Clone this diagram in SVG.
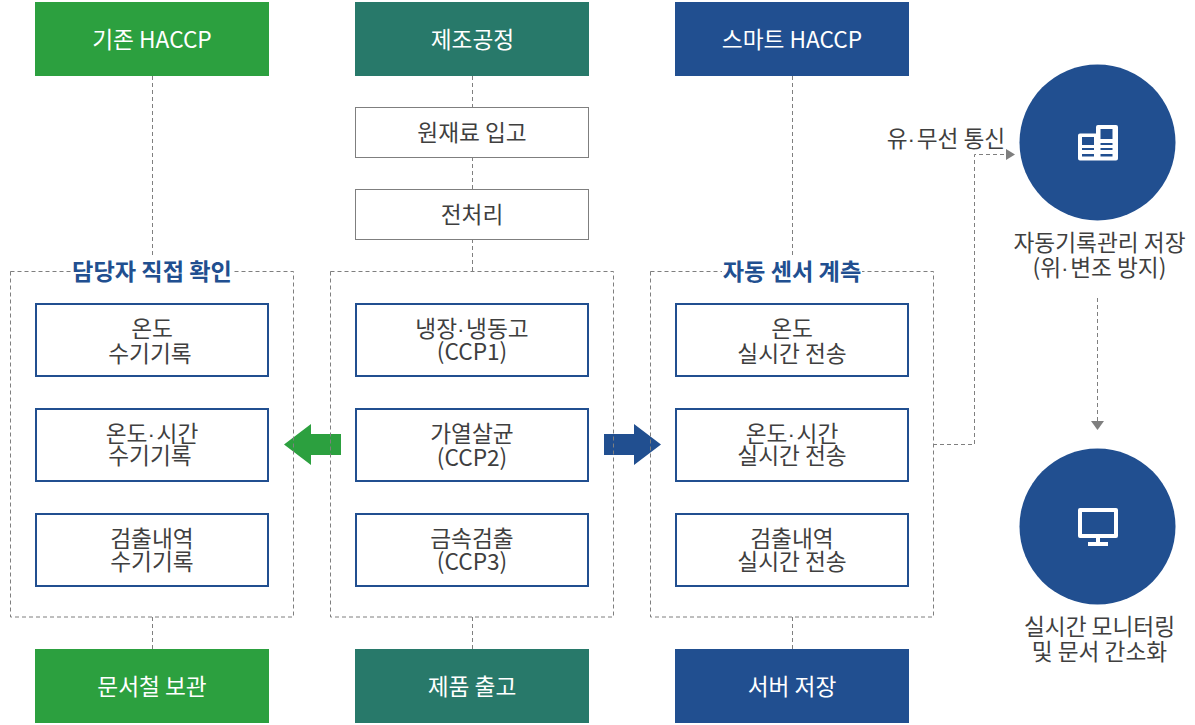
<svg xmlns="http://www.w3.org/2000/svg" width="1195" height="725" viewBox="0 0 1195 725">
<defs><style>
text{font-family:"Noto Sans CJK KR","Noto Sans",sans-serif;font-size:22.700px;fill:#3f3f3f;text-anchor:middle}
tspan{font-family:"Liberation Sans",sans-serif;letter-spacing:1.500px}
.w{fill:#fff}
.t{fill:#214f90;font-weight:700;font-size:23.200px}
.d{fill:none;stroke:#7f7f7f;stroke-width:1;stroke-dasharray:4 3}
.g{fill:#2ca03f}.e{fill:#28796a}.b{fill:#214f90}
.n{fill:#fff;stroke:#7f7f7f;stroke-width:1}
.c{fill:#fff;stroke:#214f90;stroke-width:2}
</style></defs>
<rect width="1195" height="725" fill="#fff"/>
<g id="connectors">
<path class="d" d="M152.500 76V271M152.500 617V649M472.500 76V107M472.500 157V189M472.500 239V271M472.500 617V649M792.500 76V271M792.500 617V649"/>
<path class="d" d="M933 444.500H974.500V154.500H1006"/>
<path d="M1006 149L1015 154.500L1006 160Z" fill="#7f7f7f"/>
<path class="d" d="M1097.500 298V421"/>
<path d="M1091 421H1104L1097.500 430Z" fill="#7f7f7f"/>
<path d="M341 434H311V424L284 444.500L311 465V455H341Z" class="g"/>
<path d="M604 434H634V424L661 444.500L634 465V455H604Z" class="b"/>
</g>
<g id="group-left"><rect class="d" x="10.500" y="271.500" width="283" height="345.500"/><rect x="72" y="258" width="161" height="26" fill="#fff"/><text class="t" x="152" y="280">담당자 직접 확인</text></g>
<g id="group-mid"><rect class="d" x="330.500" y="271.500" width="283" height="345.500"/></g>
<g id="group-right"><rect class="d" x="650.500" y="271.500" width="283" height="345.500"/><rect x="722" y="258" width="140" height="26" fill="#fff"/><text class="t" x="792" y="280">자동 센서 계측</text></g>
<g id="h1"><rect class="g" x="35" y="2" width="234" height="74"/><text class="w" x="152" y="48">기존 HACCP</text></g>
<g id="h2"><rect class="e" x="355" y="2" width="234" height="74"/><text class="w" x="472.500" y="48">제조공정</text></g>
<g id="h3"><rect class="b" x="675" y="2" width="234" height="74"/><text class="w" x="792" y="48">스마트 HACCP</text></g>
<g id="p1"><rect class="n" x="355.500" y="107.500" width="233" height="50"/><text x="472" y="141">원재료 입고</text></g>
<g id="p2"><rect class="n" x="355.500" y="189.500" width="233" height="50"/><text x="472" y="223">전처리</text></g>
<g id="l1"><rect class="c" x="36" y="304" width="232" height="72"/><text x="152" y="337">온도</text><text x="150" y="362">수기기록</text></g>
<g id="l2"><rect class="c" x="36" y="409" width="232" height="72"/><text x="152" y="442">온도<tspan>·</tspan>시간</text><text x="150" y="464">수기기록</text></g>
<g id="l3"><rect class="c" x="36" y="514" width="232" height="72"/><text x="152" y="547">검출내역</text><text x="152" y="570">수기기록</text></g>
<g id="m1"><rect class="c" x="356" y="304" width="232" height="72"/><text x="472" y="337">냉장<tspan>·</tspan>냉동고</text><text x="472" y="360">(CCP1)</text></g>
<g id="m2"><rect class="c" x="356" y="409" width="232" height="72"/><text x="472" y="442">가열살균</text><text x="472" y="466">(CCP2)</text></g>
<g id="m3"><rect class="c" x="356" y="514" width="232" height="72"/><text x="472" y="547">금속검출</text><text x="472" y="570">(CCP3)</text></g>
<g id="r1"><rect class="c" x="676" y="304" width="232" height="72"/><text x="792" y="337">온도</text><text x="792" y="362">실시간 전송</text></g>
<g id="r2"><rect class="c" x="676" y="409" width="232" height="72"/><text x="792" y="442">온도<tspan>·</tspan>시간</text><text x="792" y="464">실시간 전송</text></g>
<g id="r3"><rect class="c" x="676" y="514" width="232" height="72"/><text x="792" y="547">검출내역</text><text x="792" y="570">실시간 전송</text></g>
<g id="f1"><rect class="g" x="35" y="649" width="234" height="74"/><text class="w" x="152" y="695">문서철 보관</text></g>
<g id="f2"><rect class="e" x="355" y="649" width="234" height="74"/><text class="w" x="472" y="695">제품 출고</text></g>
<g id="f3"><rect class="b" x="675" y="649" width="234" height="74"/><text class="w" x="792" y="695">서버 저장</text></g>
<text x="946" y="147">유<tspan>·</tspan>무선 통신</text>
<g id="storage"><circle class="b" cx="1097.500" cy="142.500" r="78"/>
<path fill="#fff" fill-rule="evenodd" d="M1080 133.500H1096V127Q1096 125 1098 125H1116Q1118 125 1118 127V158.500Q1118 160.500 1116 160.500H1080Q1078 160.500 1078 158.500V135.500Q1078 133.500 1080 133.500ZM1082 137V145H1094V137ZM1082 148V150H1094V148ZM1082 154V156.500H1094V154ZM1100.500 129V139H1112.500V129ZM1100.500 143V145H1112.500V143ZM1100.500 148V150H1112.500V148ZM1100.500 154V156.500H1112.500V154Z"/>
<text x="1099.500" y="251">자동기록관리 저장</text><text x="1099.500" y="276">(위<tspan>·</tspan>변조 방지)</text></g>
<g id="monitor"><circle class="b" cx="1097.500" cy="526.500" r="78"/>
<path fill="#fff" fill-rule="evenodd" d="M1080 508H1116Q1118 508 1118 510V536Q1118 538 1116 538H1100V542H1108V546H1088V542H1096V538H1080Q1078 538 1078 536V510Q1078 508 1080 508ZM1082 512V534H1114V512Z"/>
<text x="1099.500" y="635">실시간 모니터링</text><text x="1099.500" y="660">및 문서 간소화</text></g>
</svg>
